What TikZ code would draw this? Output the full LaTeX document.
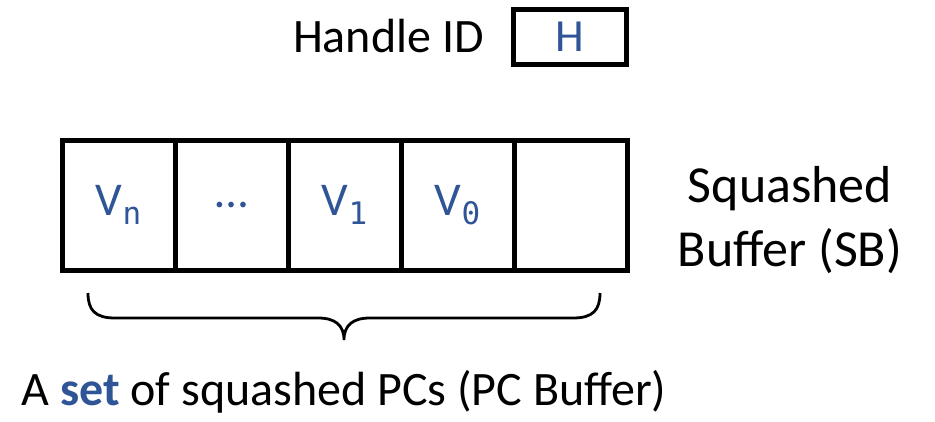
\documentclass[tikz,border=0pt]{standalone}
\usepackage{fontspec}
\setmainfont{Carlito}
\newfontfamily\monof{DejaVu Sans Mono}
\definecolor{officeblue}{HTML}{2F5597}
\tikzset{
  cell/.style={draw=black, line width=5pt, minimum width=113pt, minimum height=130pt, inner sep=0pt, text=officeblue, font=\fontsize{47}{56}\selectfont},
  hbox/.style={draw=black, line width=5pt, minimum width=113pt, minimum height=55pt, inner sep=0pt, text=officeblue, font=\fontsize{46}{56}\selectfont},
  lbl/.style={inner sep=0pt, font=\fontsize{48}{60}\selectfont, text=black}
}
\newcommand{\subm}[1]{\raisebox{-0.2em}{\fontsize{31}{34}\monof #1}}
\begin{document}
\begin{tikzpicture}[x=1pt,y=1pt]
\useasboundingbox (0,0) rectangle (935,-421);
\node[hbox] (H) at (570,-37) {H};
\node[lbl, anchor=base east] (hid) at (484,-52) {Handle ID};
\node[cell] (c1) at (118.5,-205) {V\subm{n}};
\node[cell] (c2) at (231.5,-205) {…};
\node[cell] (c3) at (344.5,-205) {V\subm{1}};
\node[cell] (c4) at (457.5,-205) {V\subm{0}};
\node[cell] (c5) at (570.5,-205) {};
\node[lbl, align=center, font=\fontsize{52}{64}\selectfont] (sb) at (790,-220) {Squashed\\Buffer (SB)};
\coordinate (bl) at (88,-293);
\coordinate (br) at (600,-293);
\coordinate (bt) at (344,-340);
\draw[line width=2.8pt] (bl) .. controls (88,-310) and (95,-318) .. (115,-318)
  -- (318,-318) .. controls (335,-318) and (344,-325) .. (bt)
  .. controls (344,-325) and (353,-318) .. (370,-318)
  -- (573,-318) .. controls (593,-318) and (600,-310) .. (br);
\node[lbl, anchor=base] (pcb) at (344,-405) {A \textbf{\textcolor{officeblue}{set}} of squashed PCs (PC Buffer)};
\end{tikzpicture}
\end{document}
